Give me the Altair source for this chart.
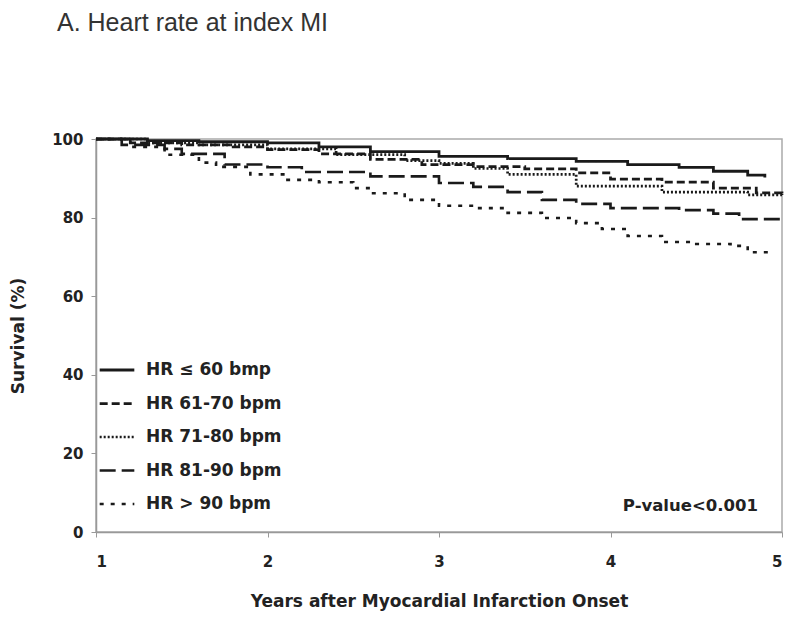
import altair as alt
import pandas as pd

groups = ["HR ≤ 60 bmp", "HR 61-70 bpm", "HR 71-80 bpm", "HR 81-90 bpm", "HR > 90 bpm"]

t_60 = [1.0, 1.3, 1.6, 2.0, 2.3, 2.6, 3.0, 3.4, 3.8, 4.1, 4.4, 4.6, 4.8, 4.9]
s_60 = [100, 99.6, 99.3, 99.0, 98.0, 96.8, 95.6, 95.0, 94.3, 93.5, 92.8, 91.8, 90.8, 90.2]

t_70 = [1.0, 1.2, 1.5, 1.8, 2.0, 2.3, 2.6, 2.9, 3.2, 3.5, 3.8, 4.0, 4.3, 4.6, 4.85, 5.0]
s_70 = [100, 99.0, 98.5, 98.0, 97.3, 96.2, 94.8, 93.5, 93.0, 92.4, 91.4, 89.8, 89.0, 87.5, 86.3, 86.0]

t_80 = [1.0, 1.3, 1.6, 2.0, 2.4, 2.8, 3.0, 3.2, 3.4, 3.8, 4.3, 4.8, 5.0]
s_80 = [100, 99.0, 98.5, 97.5, 96.0, 94.5, 93.8, 92.5, 91.0, 88.0, 86.5, 85.8, 85.3]

t_90 = [1.0, 1.15, 1.4, 1.5, 1.75, 2.0, 2.2, 2.6, 3.0, 3.2, 3.4, 3.6, 3.8, 4.0, 4.4, 4.6, 4.75, 5.0]
s_90 = [100, 98.5, 97.5, 96.2, 93.5, 92.8, 91.6, 90.5, 88.8, 87.8, 86.5, 84.5, 83.5, 82.4, 81.9, 81.0, 79.6, 79.0]

t_gt = [1.0, 1.2, 1.4, 1.6, 1.7, 1.9, 2.1, 2.3, 2.5, 2.6, 2.8, 3.0, 3.2, 3.4, 3.6, 3.8, 3.95, 4.1, 4.3, 4.5, 4.7, 4.8, 4.95]
s_gt = [100, 98.0, 96.0, 94.0, 92.9, 91.0, 89.6, 89.0, 87.5, 86.2, 84.5, 83.0, 82.4, 81.2, 79.9, 78.6, 77.1, 75.3, 73.8, 73.3, 72.8, 71.2, 71.0]

dashes = [[1, 0], [8, 4], [2, 2], [16, 6], [4, 7]]
widths = [2.8, 2.6, 1.5, 3.0, 2.6]

title_text = "A. Heart rate at index MI"
x_title = "Years after Myocardial Infarction Onset"
y_title = "Survival (%)"
pval_text = ["P-value<0.001"]
pval_x = [4.86]
pval_y = [6.5]

rows = []
for g, ts, ss in zip(groups, [t_60, t_70, t_80, t_90, t_gt], [s_60, s_70, s_80, s_90, s_gt]):
    for t, s in zip(ts, ss):
        rows.append({"group": g, "year": t, "surv": s})
df = pd.DataFrame(rows)

FONT = "DejaVu Sans"
TFONT = "Liberation Sans"

xscale = alt.Scale(domain=[1, 5], nice=False)
yscale = alt.Scale(domain=[0, 100], nice=False)

lines = alt.Chart(df).mark_line(interpolate="step-after", color="#1a1a1a").encode(
    x=alt.X("year:Q", scale=xscale,
            axis=alt.Axis(title=x_title, values=[1, 2, 3, 4, 5], format="d",
                          labelPadding=17, titlePadding=24)),
    y=alt.Y("surv:Q", scale=yscale,
            axis=alt.Axis(title=y_title, values=list(range(0, 101, 10)),
                          labelExpr="datum.value % 20 == 0 ? datum.label : ''",
                          labelPadding=8, titlePadding=24)),
    strokeDash=alt.StrokeDash("group:N", sort=groups,
                              scale=alt.Scale(domain=groups, range=dashes),
                              legend=alt.Legend(title=None)),
    strokeWidth=alt.StrokeWidth("group:N", sort=groups,
                                scale=alt.Scale(domain=groups, range=widths),
                                legend=alt.Legend(title=None)),
    detail="group:N",
)

pdf = pd.DataFrame({"x": pval_x, "y": pval_y, "t": pval_text})
pval = alt.Chart(pdf).mark_text(align="right", baseline="middle", font=FONT,
                                fontSize=16.5, fontWeight="bold", color="#222").encode(
    x=alt.X("x:Q", scale=xscale), y=alt.Y("y:Q", scale=yscale), text="t:N")

chart = alt.layer(lines, pval).properties(
    width=686, height=393,
    title=alt.TitleParams(title_text, anchor="start", frame="group", dx=-39, offset=96,
                          font=TFONT, fontSize=25, fontWeight="normal", color="#333"),
    autosize=alt.AutoSizeParams(type="none"),
    padding={"left": 88, "top": 131, "right": 10, "bottom": 90},
).configure_view(stroke="#aaa", strokeWidth=1.5).configure_axis(
    grid=False, domainColor="#999", tickColor="#999", domainWidth=1.5,
    labelFont=FONT, labelFontSize=15, labelFontWeight="bold", labelColor="#222",
    titleFont=FONT, titleFontSize=17, titleFontWeight="bold", titleColor="#222",
    tickSize=5,
).configure_legend(
    orient="none", legendX=2, legendY=212, symbolType="stroke", symbolSize=1200,
    symbolStrokeColor="#1a1a1a", labelFont=FONT, labelFontSize=17,
    labelFontWeight="bold", labelColor="#222", labelOffset=10, rowPadding=6.5,
    padding=0,
)

chart.save("out.html", embed_options={"renderer": "svg", "actions": False})
